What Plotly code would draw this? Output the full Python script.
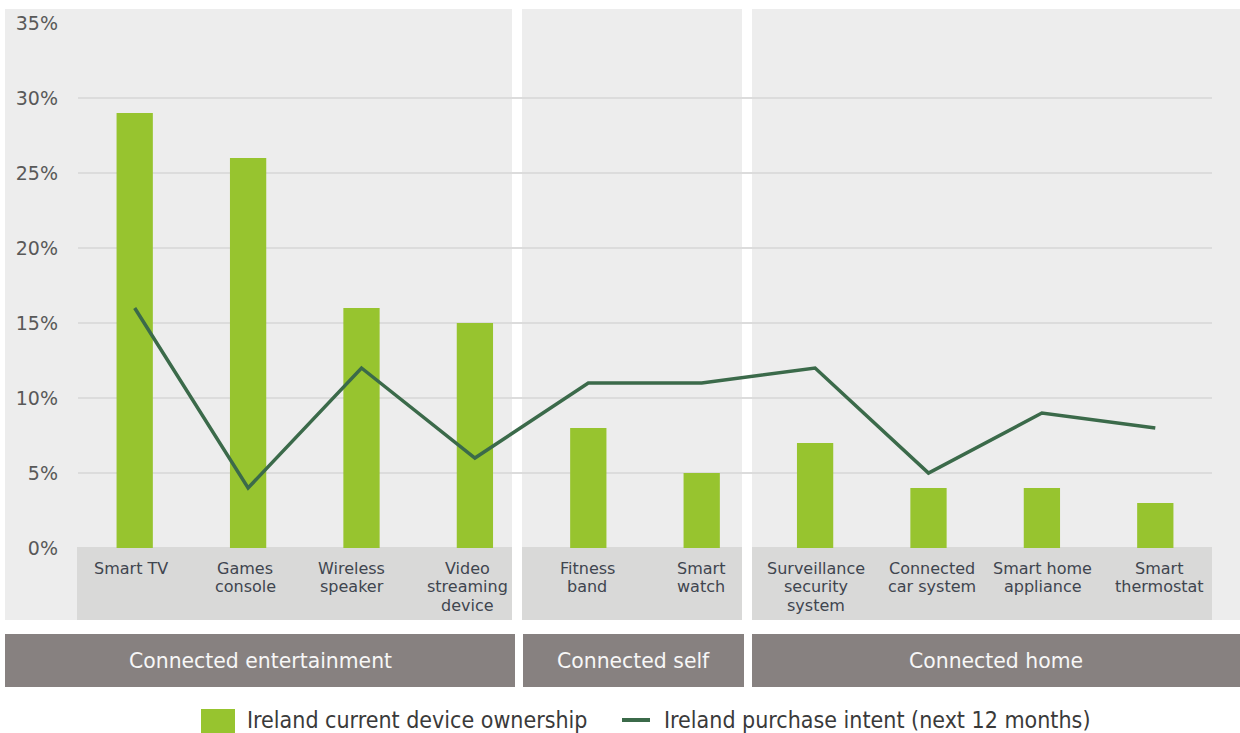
import plotly.graph_objects as go

# Device categories (line breaks as shown under each bar)
categories = [
    "Smart TV", "Games<br>console", "Wireless<br>speaker", "Video<br>streaming<br>device",
    "Fitness<br>band", "Smart<br>watch",
    "Surveillance<br>security<br>system", "Connected<br>car system", "Smart home<br>appliance",
    "Smart<br>thermostat",
]
ownership = [29, 26, 16, 15, 8, 5, 7, 4, 4, 3]          # % current device ownership
purchase_intent = [16, 4, 12, 6, 11, 11, 12, 5, 9, 8]   # % purchase intent, next 12 months
groups = ["Connected entertainment", "Connected self", "Connected home"]
y_ticks = [0, 5, 10, 15, 20, 25, 30, 35]

W, H = 1240, 733
L, R, T, B = 78, 28, 23, 185
PW, PH = W - L - R, H - T - B

BAR_GREEN = "#97c42f"
LINE_GREEN = "#3b6a4a"
PANEL = "#ededed"
LABEL_BAND = "#d9d9d8"
GROUP_BOX = "#878180"

# small horizontal nudges (px) for the category captions
label_nudge = [-4, -3, -10, -7, -1, -1, 1, 3, 1, 4]


def px(x):
    return (x - L) / PW


def py(y):
    return (H - B - y) / PH


fig = go.Figure()
fig.add_trace(go.Bar(
    x=categories, y=ownership, name="Ireland current device ownership",
    marker=dict(color=BAR_GREEN, line=dict(width=0)), width=0.32,
    showlegend=False,
))
fig.add_trace(go.Scatter(
    x=categories, y=purchase_intent, name="Ireland purchase intent (next 12 months)",
    mode="lines", line=dict(color=LINE_GREEN, width=3.5), showlegend=False,
))

shapes = []
# grey panels behind each group (plot area + category label band)
panels = [(5, 512), (522, 742), (752, 1240)]
bands = [(77, 512), (522, 742), (752, 1212)]
for x0, x1 in panels:
    shapes.append(dict(type="rect", xref="paper", yref="paper", layer="below",
                       x0=px(x0), x1=px(x1), y0=py(620), y1=py(9),
                       fillcolor=PANEL, line=dict(width=0)))
for x0, x1 in bands:
    shapes.append(dict(type="rect", xref="paper", yref="paper", layer="below",
                       x0=px(x0), x1=px(x1), y0=py(620), y1=py(547),
                       fillcolor=LABEL_BAND, line=dict(width=0)))
# white gutters between panels, over the gridlines but under the data
for x0, x1 in [(512, 522), (742, 752)]:
    shapes.append(dict(type="rect", xref="paper", yref="paper", layer="between",
                       x0=px(x0), x1=px(x1), y0=py(620), y1=py(9),
                       fillcolor="white", line=dict(width=0)))
# group header boxes
group_boxes = [(5, 515), (523, 744), (752, 1240)]
for x0, x1 in group_boxes:
    shapes.append(dict(type="rect", xref="paper", yref="paper", layer="below",
                       x0=px(x0), x1=px(x1), y0=py(687), y1=py(634),
                       fillcolor=GROUP_BOX, line=dict(width=0)))

# legend swatches
shapes.append(dict(type="rect", xref="paper", yref="paper",
                   x0=px(201), x1=px(235), y0=py(733), y1=py(709),
                   fillcolor=BAR_GREEN, line=dict(width=0)))
shapes.append(dict(type="line", xref="paper", yref="paper",
                   x0=px(622), x1=px(650), y0=py(720), y1=py(720),
                   line=dict(color=LINE_GREEN, width=4)))

annotations = []
# category labels, one line per annotation for tight leading
for cat, nudge in zip(categories, label_nudge):
    for j, part in enumerate(cat.split("<br>")):
        annotations.append(dict(
            x=cat, xref="x", y=py(568 + 18.5 * j), yref="paper", text=part,
            showarrow=False, xanchor="center", yanchor="middle", xshift=nudge,
            font=dict(family="DejaVu Sans, Verdana, sans-serif", size=16, color="#40454f"),
        ))
# group titles
for name, (x0, x1) in zip(groups, group_boxes):
    annotations.append(dict(
        x=px((x0 + x1) / 2), xref="paper", y=py(661), yref="paper", text=name,
        showarrow=False, xanchor="center", yanchor="middle",
        font=dict(family="DejaVu Sans, Verdana, sans-serif", size=20.4, color="#f7f7f7"),
    ))
# legend text
legend_font = dict(family="DejaVu Sans Condensed, Liberation Sans Narrow, DejaVu Sans, sans-serif",
                   size=23, color="#3a3a3a")
annotations.append(dict(x=px(245), xref="paper", y=py(720), yref="paper",
                        text="Ireland current device ownership", showarrow=False,
                        xanchor="left", yanchor="middle", font=legend_font))
annotations.append(dict(x=px(662), xref="paper", y=py(720), yref="paper",
                        text="Ireland purchase intent (next 12 months)", showarrow=False,
                        xanchor="left", yanchor="middle", font=legend_font))

fig.update_layout(
    width=W, height=H,
    margin=dict(l=L, r=R, t=T, b=B, pad=0),
    paper_bgcolor="white", plot_bgcolor="rgba(0,0,0,0)",
    shapes=shapes, annotations=annotations,
    showlegend=False, bargap=0.68,
    xaxis=dict(showticklabels=False, showgrid=False, zeroline=False, showline=False,
               ticks="", fixedrange=True),
    yaxis=dict(range=[0, 35], tickvals=y_ticks, ticktext=[f"{v}%" for v in y_ticks],
               showgrid=True, gridcolor="#dcdcdc", gridwidth=1.5,
               zeroline=False, showline=False, ticks="", ticklabelstandoff=19,
               tickfont=dict(family="DejaVu Sans, Verdana, sans-serif", size=19, color="#595959")),
)

fig.write_html("out.html")
